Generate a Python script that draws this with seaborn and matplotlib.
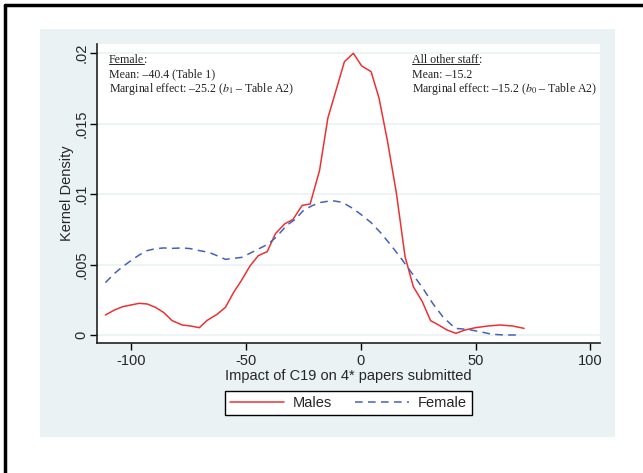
import pandas as pd
import matplotlib.pyplot as plt
import seaborn as sns
from matplotlib.lines import Line2D
from matplotlib.patches import Rectangle

# ---- data ----
males_x = [-111.1, -107.1, -103.6, -100.0, -96.4, -92.9, -89.3, -85.7, -82.1, -77.7,
           -74.1, -70.2, -67.0, -62.5, -58.9, -55.4, -51.8, -48.2, -44.6, -40.7,
           -37.1, -33.0, -29.5, -25.5, -22.0, -17.9, -14.3, -10.7, -7.1, -3.2,
           0.4, 4.5, 8.0, 11.6, 15.5, 19.3, 22.9, 26.8, 30.4, 33.9,
           37.5, 41.4, 45.5, 50.0, 55.4, 60.7, 66.1, 71.1]
males_y = [0.00142, 0.00178, 0.00201, 0.00213, 0.00225, 0.00220, 0.00196, 0.00159, 0.00102, 0.00071,
           0.00064, 0.00052, 0.00102, 0.00147, 0.00196, 0.00300, 0.00390, 0.00490, 0.00563, 0.00592,
           0.00720, 0.00790, 0.00820, 0.00920, 0.00930, 0.01170, 0.01540, 0.01740, 0.01940, 0.02000,
           0.01910, 0.01870, 0.01680, 0.01380, 0.01010, 0.00556, 0.00343, 0.00237, 0.00102, 0.00071,
           0.00036, 0.00012, 0.00036, 0.00052, 0.00064, 0.00071, 0.00064, 0.00047]

female_x = [-111.1, -107.1, -103.6, -100.0, -96.4, -92.9, -89.3, -85.7, -82.1, -77.7,
            -74.1, -70.2, -66.1, -62.5, -58.9, -55.4, -51.8, -48.2, -44.6, -40.2,
            -36.6, -32.1, -28.6, -25.0, -21.4, -17.9, -12.5, -8.0, -3.6, 0.0,
            4.5, 8.9, 13.4, 17.9, 22.3, 26.8, 31.3, 35.7, 41.1, 46.4,
            51.8, 57.1, 62.5, 69.6]
female_y = [0.00372, 0.00438, 0.00485, 0.00528, 0.00568, 0.00599, 0.00613, 0.00618, 0.00615, 0.00618,
            0.00613, 0.00599, 0.00587, 0.00563, 0.00537, 0.00544, 0.00551, 0.00580, 0.00610, 0.00646,
            0.00698, 0.00780, 0.00820, 0.00883, 0.00916, 0.00940, 0.00954, 0.00942, 0.00900, 0.00857,
            0.00798, 0.00722, 0.00632, 0.00537, 0.00438, 0.00338, 0.00225, 0.00130, 0.00047, 0.00040,
            0.00024, 0.00005, 0.0, 0.0]

x_ticks = [-100, -50, 0, 50, 100]
x_tick_labels = ["-100", "-50", "0", "50", "100"]
y_ticks = [0, 0.005, 0.01, 0.015, 0.02]
y_tick_labels = ["0", ".005", ".01", ".015", ".02"]

RED = "#EB3134"
BLUE = "#4462B8"
PANEL = "#EAF2F3"

sns.set_theme(style="white")
plt.rcParams["font.family"] = ["Liberation Sans", "DejaVu Sans"]
plt.rcParams["mathtext.fontset"] = "stix"

males = pd.DataFrame({"x": males_x, "density": males_y})
female = pd.DataFrame({"x": female_x, "density": female_y})

fig = plt.figure(figsize=(6.43, 4.73), dpi=100)
fig.patch.set_facecolor("white")

# stata-style light panel behind the plot
fig.add_artist(Rectangle((0.0622, 0.0761), 0.894, 0.8626, transform=fig.transFigure,
                         facecolor=PANEL, edgecolor="none", zorder=-5))
# page border (top + left only)
fig.add_artist(Line2D([0.008, 1.0], [0.989, 0.989], transform=fig.transFigure, color="black", lw=2.5))
fig.add_artist(Line2D([0.008, 0.008], [0.0, 0.989], transform=fig.transFigure, color="black", lw=2.5))

ax = fig.add_axes([0.1504, 0.2742, 0.7826, 0.6328])
ax.set_facecolor("white")

for y in y_ticks:
    ax.axhline(y, color=PANEL, lw=1.2, zorder=0)

sns.lineplot(data=males, x="x", y="density", ax=ax, color=RED, lw=1.1,
             label="Males", sort=False, estimator=None)
sns.lineplot(data=female, x="x", y="density", ax=ax, color=BLUE, lw=1.1,
             label="Female", sort=False, estimator=None, linestyle=(0, (5, 3.5)))

ax.set_xlim(-114.9, 104.1)
ax.set_ylim(-0.00059, 0.02066)
ax.set_xticks(x_ticks)
ax.set_xticklabels(x_tick_labels, fontsize=10.5)
ax.set_yticks(y_ticks)
ax.set_yticklabels(y_tick_labels, fontsize=10.5, rotation=90, va="center")
ax.tick_params(axis="both", direction="out", length=5, width=1, color="black",
               left=True, bottom=True)
ax.tick_params(axis="x", pad=3)
ax.tick_params(axis="y", pad=1)

for side in ["top", "right"]:
    ax.spines[side].set_visible(False)
for side in ["left", "bottom"]:
    ax.spines[side].set_color("#222222")
    ax.spines[side].set_linewidth(1.2)

ax.set_xlabel("Impact of C19 on 4* papers submitted", fontsize=10.5, labelpad=0.5)
ax.set_ylabel("Kernel Density", fontsize=10.5, labelpad=0.5)

# ---- annotations ----
serif = dict(family=["Liberation Serif", "DejaVu Serif"], size=8.6, color="#222222")
heads = []
for x0, head, mean, effect in [
    (0.0245, "Female", "Mean: \u201340.4 (Table 1)",
     "Marginal effect: \u201325.2 ($b_1$\u2009\u2013 Table A2)"),
    (0.627, "All other staff", "Mean: \u201315.2",
     "Marginal effect: \u201315.2 ($b_0$\u2009\u2013 Table A2)"),
]:
    t = ax.text(x0, 0.9365, head, transform=ax.transAxes, va="baseline", ha="left", **serif)
    ax.annotate(":", xy=(1, 0), xycoords=t, va="bottom", ha="left", **serif)
    ax.text(x0, 0.888, mean, transform=ax.transAxes, va="baseline", ha="left", **serif)
    ax.text(x0, 0.8396, effect, transform=ax.transAxes, va="baseline", ha="left", **serif)
    heads.append(t)

ax.get_legend().remove()
handles = [Line2D([], [], color=RED, lw=1.1),
           Line2D([], [], color=BLUE, lw=1.1, linestyle=(0, (5, 3.5)))]
leg = fig.legend(handles, ["Males", "Female"], loc="center", bbox_to_anchor=(0.542, 0.148),
                 ncol=2, fontsize=10.5, frameon=True, fancybox=False, framealpha=1,
                 facecolor="white", edgecolor="black", handlelength=3.7,
                 columnspacing=1.6, handletextpad=0.6, borderpad=0.35)
leg.get_frame().set_linewidth(1.0)

# underline the two headers
fig.canvas.draw()
for t in heads:
    bb = t.get_window_extent()
    yb = bb.y0 + 1.5
    fig.add_artist(Line2D([bb.x0, bb.x1], [yb, yb], transform=None, color="#222222", lw=0.7))

fig.savefig("out.png", dpi=100)
